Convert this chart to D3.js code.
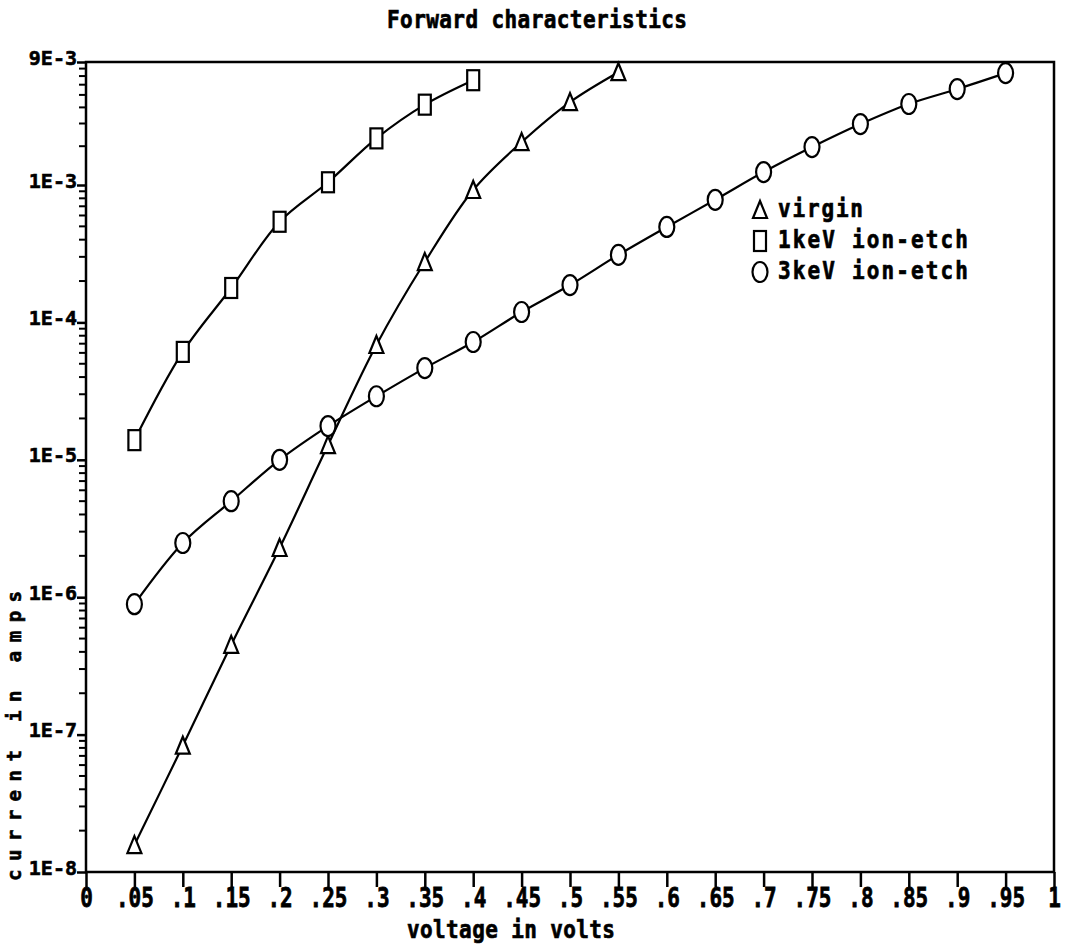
<!DOCTYPE html>
<html>
<head>
<meta charset="utf-8">
<script src="https://cdn.jsdelivr.net/npm/d3@7"></script>
<style>
  html, body { margin: 0; padding: 0; background: #fff; }
  svg { display: block; }
  text { font-family: "DejaVu Sans Mono", monospace; font-weight: bold; fill: #000;
         stroke: #000; stroke-width: 0.6px; }
</style>
</head>
<body>
<svg id="chart" width="1065" height="950"></svg>
<script>
// Applied voltage (V) for each measured point
const voltsVirgin = [0.05, 0.1, 0.15, 0.2, 0.25, 0.3, 0.35, 0.4, 0.45, 0.5, 0.55];
const voltsEtch1k = [0.05, 0.1, 0.15, 0.2, 0.25, 0.3, 0.35, 0.4];
const voltsEtch3k = [0.05, 0.1, 0.15, 0.2, 0.25, 0.3, 0.35, 0.4, 0.45, 0.5,
                     0.55, 0.6, 0.65, 0.7, 0.75, 0.8, 0.85, 0.9, 0.95];

// Forward current (A)
const ampsVirgin = [1.57e-8, 8.3e-8, 4.5e-7, 2.28e-6, 1.28e-5, 6.85e-5, 2.75e-4, 9.2e-4, 2.15e-3, 4.4e-3, 7.5e-3];
const ampsEtch1k = [1.39e-5, 6.1e-5, 1.78e-4, 5.4e-4, 1.05e-3, 2.3e-3, 4.2e-3, 6.5e-3];
const ampsEtch3k = [8.9e-7, 2.48e-6, 5.0e-6, 1.0e-5, 1.76e-5, 2.9e-5, 4.65e-5, 7.2e-5, 1.19e-4, 1.87e-4,
                    3.1e-4, 4.95e-4, 7.8e-4, 1.26e-3, 1.97e-3, 2.97e-3, 4.25e-3, 5.55e-3, 7.38e-3];

const seriesNames = ["virgin", "1keV ion-etch", "3keV ion-etch"];
const seriesShapes = ["triangle", "square", "circle"];

// Axis ticks
const xTickValues = d3.range(0, 21).map(i => +(i * 0.05).toFixed(2));
const xTickLabels = ["0", ".05", ".1", ".15", ".2", ".25", ".3", ".35", ".4", ".45", ".5",
                     ".55", ".6", ".65", ".7", ".75", ".8", ".85", ".9", ".95", "1"];
const yTickValues = [1e-8, 1e-7, 1e-6, 1e-5, 1e-4, 1e-3, 9e-3];
const yTickLabels = ["1E-8", "1E-7", "1E-6", "1E-5", "1E-4", "1E-3", "9E-3"];

const titleText = "Forward characteristics";
const xTitle = "voltage in volts";
const yTitle = "current in amps";

const svg = d3.select("#chart");
const plotL = 86, plotR = 1054, plotT = 62, plotB = 872;

const x = d3.scaleLinear().domain([0, 1]).range([plotL, plotR]);
// log axis whose top decade is drawn slightly compressed
const y = d3.scaleLog().domain([1e-8, 1e-3, 9e-3]).range([plotB, 185, plotT]);

// frame
svg.append("path")
  .attr("d", `M${plotL},${plotT}H${plotR}V${plotB}H${plotL}Z`)
  .attr("fill", "none").attr("stroke", "#000").attr("stroke-width", 2.5);

// x axis ticks
const xAxis = d3.axisBottom(x).tickValues(xTickValues)
  .tickFormat((d, i) => xTickLabels[i]).tickSize(15).tickPadding(4);
const gx = svg.append("g").attr("transform", `translate(0,${plotB})`).call(xAxis);
gx.select(".domain").remove();
gx.selectAll(".tick line").attr("stroke", "#000").attr("stroke-width", 2.5);
gx.selectAll(".tick text")
  .attr("font-size", 21).attr("y", 0).attr("dy", 0)
  .attr("transform", "translate(0,35) scale(1,1.3)")
  .style("font-family", "'DejaVu Sans Mono', monospace").style("font-weight", "bold");

// y axis minor ticks
const yMinor = [];
for (let k = -8; k <= -4; k++) for (let m = 2; m <= 9; m++) yMinor.push(m * Math.pow(10, k));
for (let m = 2; m <= 8; m++) yMinor.push(m * 1e-3);
svg.append("g").selectAll("line").data(yMinor).join("line")
  .attr("x1", plotL - 7).attr("x2", plotL)
  .attr("y1", d => y(d)).attr("y2", d => y(d))
  .attr("stroke", "#000").attr("stroke-width", 2);

// y axis major ticks + labels
const yAxis = d3.axisLeft(y).tickValues(yTickValues)
  .tickFormat((d, i) => yTickLabels[i]).tickSize(9).tickPadding(0);
const gy = svg.append("g").attr("transform", `translate(${plotL},0)`).call(yAxis);
gy.select(".domain").remove();
gy.selectAll(".tick line").attr("stroke", "#000").attr("stroke-width", 2.5);
gy.selectAll(".tick text")
  .attr("x", -9).attr("dy", "0.1em")
  .attr("font-size", 20)
  .attr("text-anchor", "end")
  .style("font-family", "'DejaVu Sans Mono', monospace").style("font-weight", "bold");

// curves
const data = [
  voltsVirgin.map((v, i) => [v, ampsVirgin[i]]),
  voltsEtch1k.map((v, i) => [v, ampsEtch1k[i]]),
  voltsEtch3k.map((v, i) => [v, ampsEtch3k[i]])
];
const line = d3.line().x(d => x(d[0])).y(d => y(d[1])).curve(d3.curveCatmullRom);
svg.append("g").selectAll("path").data(data).join("path")
  .attr("d", line).attr("fill", "none")
  .attr("stroke", "#000").attr("stroke-width", 2.2);

// marker shapes
function drawMarker(g, shape) {
  if (shape === "triangle") {
    g.append("path").attr("d", "M0,-9L-7,8L7,8Z");
  } else if (shape === "square") {
    g.append("rect").attr("x", -6).attr("y", -10).attr("width", 12).attr("height", 20);
  } else {
    g.append("ellipse").attr("rx", 7.5).attr("ry", 10);
  }
  g.selectAll("*").attr("fill", "#fff").attr("stroke", "#000").attr("stroke-width", 2.2);
}

data.forEach((pts, s) => {
  svg.append("g").selectAll("g").data(pts).join("g")
    .attr("transform", d => `translate(${x(d[0])},${y(d[1])})`)
    .each(function () { drawMarker(d3.select(this), seriesShapes[s]); });
});

// legend
const legendY = [210, 241, 272];
const legendW = [85, 190, 190];
seriesNames.forEach((name, i) => {
  const g = svg.append("g").attr("transform", `translate(760,${legendY[i]})`);
  drawMarker(g, seriesShapes[i]);
  g.append("text").attr("transform", "translate(18,7) scale(1,1.15)")
    .attr("font-size", 21)
    .attr("textLength", legendW[i]).attr("lengthAdjust", "spacing")
    .text(name);
});

// titles
svg.append("text").attr("transform", "translate(537,28) scale(1,1.2)")
  .attr("text-anchor", "middle")
  .attr("font-size", 21).attr("textLength", 300).attr("lengthAdjust", "spacing")
  .text(titleText);
svg.append("text").attr("transform", "translate(511,938) scale(1,1.15)")
  .attr("text-anchor", "middle")
  .attr("font-size", 21).attr("textLength", 208).attr("lengthAdjust", "spacing")
  .text(xTitle);
svg.append("text")
  .attr("transform", "translate(21,736) rotate(-90)")
  .attr("text-anchor", "middle")
  .attr("font-size", 19).attr("textLength", 290).attr("lengthAdjust", "spacing")
  .text(yTitle);
</script>
</body>
</html>
